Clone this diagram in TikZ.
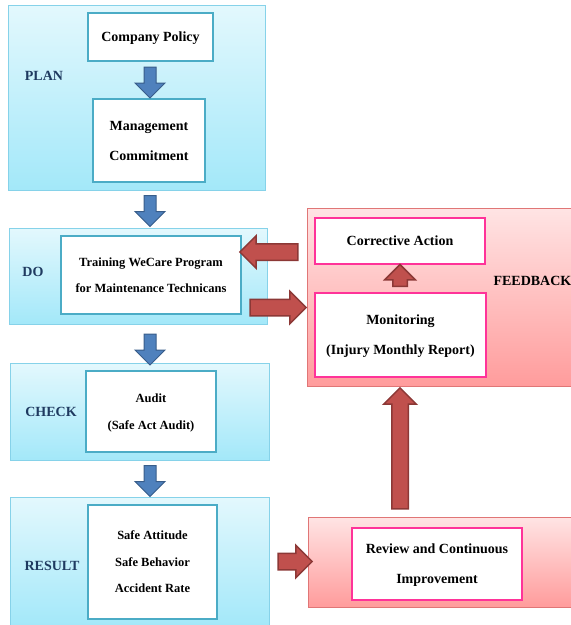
\documentclass[tikz,border=0pt]{standalone}
\usepackage{fontspec}
\setmainfont{Liberation Serif}
\usetikzlibrary{shapes.arrows}

\definecolor{skytop}{HTML}{E3F8FD}
\definecolor{skybot}{HTML}{A3E8F9}
\definecolor{skyedge}{HTML}{86D2E9}
\definecolor{tealedge}{HTML}{4BACC6}
\definecolor{rosetop}{HTML}{FFE4E4}
\definecolor{rosebot}{HTML}{FF9C9C}
\definecolor{roseedge}{HTML}{E07676}
\definecolor{pinkedge}{HTML}{FF3399}
\definecolor{navy}{HTML}{1F3A60}
\definecolor{bluefill}{HTML}{4F81BD}
\definecolor{blueedge}{HTML}{385D8A}
\definecolor{redfill}{HTML}{C0504D}
\definecolor{rededge}{HTML}{8C3836}

\begin{document}
\begin{tikzpicture}[x=1pt,y=-1pt,
    phase/.style={draw=skyedge,line width=1pt,top color=skytop,bottom color=skybot,inner sep=0pt},
    loopzone/.style={draw=roseedge,line width=1pt,top color=rosetop,bottom color=rosebot,inner sep=0pt},
    task/.style={draw=tealedge,line width=2.8pt,fill=white,align=center,inner sep=0pt,text depth=0pt},
    fbtask/.style={task,draw=pinkedge},
    big/.style={font=\bfseries\fontsize{14}{30}\selectfont},
    small/.style={font=\bfseries\fontsize{12.5}{26.5}\selectfont},
    tag/.style={text=navy,font=\bfseries\fontsize{14}{16}\selectfont},
    downarrow/.style={single arrow,shape border rotate=270,fill=bluefill,draw=blueedge,line width=1pt,
        inner sep=5.5pt,single arrow head extend=9pt,minimum height=31pt},
    redarrow/.style={single arrow,fill=redfill,draw=rededge,line width=1.5pt,
        inner sep=7.5pt,single arrow head extend=8pt}]
    \useasboundingbox(0,0)rectangle(571,625);

    % PDCA column
    \node[phase,minimum width=257pt,minimum height=185pt](plan)at(136.5,97.5){};
    \node[phase,minimum width=258pt,minimum height=96pt](do)at(138,276){};
    \node[phase,minimum width=259pt,minimum height=97pt](check)at(139.5,411.5){};
    \node[phase,minimum width=259pt,minimum height=130pt](result)at(139.5,562){};

    \node[tag](plantag)at(44,76){PLAN};
    \node[tag](dotag)at(33,272){DO};
    \node[tag](checktag)at(51,412){CHECK};
    \node[tag](resulttag)at(52,566){RESULT};

    \node[task,big,minimum width=125pt,minimum height=48pt](policy)at(150.5,37){Company Policy};
    \node[task,big,minimum width=112pt,minimum height=83pt](commit)at(149,140.5){Management\\Commitment};
    \node[task,small,minimum width=180pt,minimum height=78pt](training)at(151,275){Training WeCare Program\\for Maintenance Technicans};
    \node[task,small,minimum width=130pt,minimum height=81pt](audit)at(151,411.5){Audit\\(Safe Act Audit)};
    \node[task,small,minimum width=129pt,minimum height=114pt](outcome)at(152.5,562){Safe Attitude\\Safe Behavior\\Accident Rate};

    \node[downarrow](d1)at(150,79.5){};
    \node[downarrow](d2)at(150,208){};
    \node[downarrow](d3)at(150,346.5){};
    \node[downarrow](d4)at(150,478){};

    % feedback loop
    \node[loopzone,minimum width=267pt,minimum height=178pt](feedback)at(440.5,297){};
    \node[loopzone,minimum width=266pt,minimum height=90pt](review)at(441,562){};
    \node[tag,text=black,anchor=west](fbtag)at(490,281){FEEDBACK};

    \node[fbtask,big,minimum width=170pt,minimum height=46pt](corrective)at(400,241){Corrective Action};
    \node[fbtask,big,minimum width=171pt,minimum height=84pt](monitor)at(400.5,335){Monitoring\\(Injury Monthly Report)};
    \node[fbtask,big,minimum width=170pt,minimum height=72pt](improve)at(437,564){Review and Continuous\\Improvement};

    \node[redarrow,shape border rotate=180,minimum height=58pt](back)at(273,252){};
    \node[redarrow,minimum height=56pt](out)at(274,307.5){};
    \node[redarrow,minimum height=34pt](toreview)at(291,561.5){};
    \node[redarrow,shape border rotate=90,inner sep=6.5pt,minimum height=20pt](up1)at(400,279){};
    \node[redarrow,shape border rotate=90,minimum height=121pt](up2)at(400,452.5){};
\end{tikzpicture}
\end{document}
